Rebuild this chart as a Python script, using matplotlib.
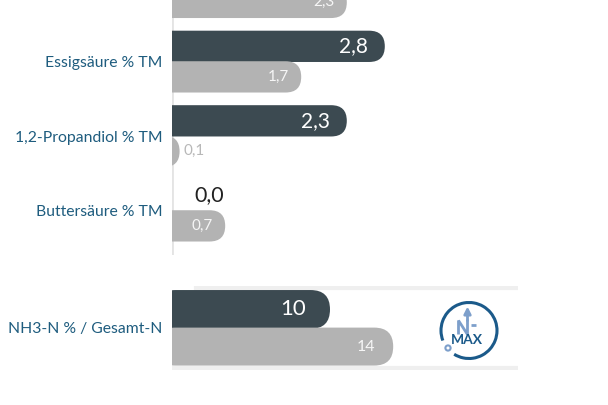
import numpy as np
import matplotlib
matplotlib.use('Agg')
import matplotlib.pyplot as plt
from matplotlib.patches import FancyBboxPatch, Circle, Arc

plt.rcParams['font.family'] = ['Lato', 'DejaVu Sans']

# data
categories = ['', 'Essigsäure % TM', '1,2-Propandiol % TM', 'Buttersäure % TM']
current = [np.nan, 2.8, 2.3, 0.0]
previous = [2.3, 1.7, 0.1, 0.7]

nh3_label = 'NH3-N % / Gesamt-N'
nh3_current = 10
nh3_previous = 14

DARK = '#3c4a51'
GREY = '#b3b3b3'
LABEL = '#1e5c7e'
LOGO = '#1b5a8a'
LOGO_LIGHT = '#7d9fcb'


def px_per_unit(ax):
    bb = ax.get_window_extent()
    x0, x1 = ax.get_xlim()
    y0, y1 = ax.get_ylim()
    return bb.width / abs(x1 - x0), bb.height / abs(y1 - y0)


def rounded_bar(ax, y, value, h, color):
    px_x, px_y = px_per_unit(ax)
    r = (h / 2) * px_y / px_x
    box = FancyBboxPatch((-1, y - h / 2), value + 1, h,
                         boxstyle=f'round,pad=0,rounding_size={r}',
                         mutation_aspect=px_x / px_y,
                         facecolor=color, edgecolor='none', zorder=3)
    ax.add_patch(box)


def value_text(ax, y, value, txt, inside_color, inside_size, inside_pad,
               outside_color, outside_size, outside_pad):
    px_x, _ = px_per_unit(ax)
    if value * px_x > 40:
        ax.annotate(txt, xy=(value, y), xytext=(-inside_pad, 0), textcoords='offset pixels',
                    ha='right', va='center', color=inside_color, fontsize=inside_size, zorder=5)
    else:
        ax.annotate(txt, xy=(value, y), xytext=(outside_pad, 0), textcoords='offset pixels',
                    ha='left', va='center', color=outside_color, fontsize=outside_size, zorder=5)


fig = plt.figure(figsize=(6.08, 4.05), dpi=100)
fig.patch.set_facecolor('white')

# upper panel
ax1 = fig.add_axes([172 / 608, 1 - 255 / 405, 346 / 608, 255 / 405])
for s in ax1.spines.values():
    s.set_visible(False)
ax1.set_xticks([])
ax1.set_yticks(range(len(categories)))
ax1.set_yticklabels(categories, color=LABEL, fontsize=11.3)
ax1.tick_params(axis='y', length=0, pad=7)
# limits after the ticks, set_yticks would widen them
ax1.set_xlim(0, 346 / 76)
ax1.set_ylim(3.591, 0.168)
ax1.axvline(0, color='#e4e4e4', lw=2, zorder=1)

h = 0.42
for i, cat in enumerate(categories):
    if not np.isnan(current[i]):
        rounded_bar(ax1, i - 0.21, current[i], h, DARK)
        value_text(ax1, i - 0.21, current[i], f'{current[i]:.1f}'.replace('.', ','),
                   'white', 15, 17, '#222222', 15.5, 22)
    rounded_bar(ax1, i + 0.2, previous[i], h, GREY)
    value_text(ax1, i + 0.2, previous[i], f'{previous[i]:.1f}'.replace('.', ','),
               '#f6f6f6', 11, 12, '#b8b8b8', 11, 4)

# lower panel
ax2 = fig.add_axes([172 / 608, 1 - 370 / 405, 346 / 608, 84 / 405])
for s in ax2.spines.values():
    s.set_visible(False)
ax2.set_xticks([])
ax2.set_yticks([0])
ax2.set_yticklabels([nh3_label], color=LABEL, fontsize=11.3)
ax2.tick_params(axis='y', length=0, pad=7)
ax2.set_xlim(0, 346 / 15.8)
ax2.set_ylim(0.52, -0.52)
ax2.axhline(-0.5, xmin=0.07, color='#efefef', lw=3, zorder=1)
ax2.axhline(0.49, color='#efefef', lw=3, zorder=1)

rounded_bar(ax2, -0.23, nh3_current, 0.48, DARK)
value_text(ax2, -0.23, nh3_current, f'{nh3_current}', 'white', 16, 24, '#222222', 15, 22)
rounded_bar(ax2, 0.23, nh3_previous, 0.47, GREY)
value_text(ax2, 0.23, nh3_previous, f'{nh3_previous}', '#f6f6f6', 11.5, 18, '#b8b8b8', 11, 4)

# N-MAX logo
lg = fig.add_axes([(469 - 32) / 608, 1 - (330.5 + 32) / 405, 64 / 608, 64 / 405])
lg.set_xlim(-32, 32)
lg.set_ylim(-32, 32)
lg.set_aspect('equal')
lg.axis('off')
lg.add_patch(Arc((0, 0), 56, 56, theta1=238, theta2=201, color=LOGO, lw=2.2))
lg.add_patch(Circle((-21, -17.5), 2.6, facecolor='white', edgecolor=LOGO_LIGHT, lw=1.5))
lg.plot([-10.5, -10.5, -1.5, -1.5], [-4, 10, -4, 11], color=LOGO_LIGHT, lw=2,
        solid_joinstyle='miter', solid_capstyle='butt')
lg.plot([2, 7], [6, 6], color=LOGO_LIGHT, lw=2, solid_capstyle='butt')
lg.annotate('', xy=(-1.5, 24), xytext=(-1.5, 10),
            arrowprops=dict(arrowstyle='-|>', color=LOGO_LIGHT, lw=2, mutation_scale=10,
                            shrinkA=0, shrinkB=0))
lg.text(-2, -10, 'MAX', color=LOGO, fontsize=10, fontweight='bold', ha='center', va='center')

fig.savefig('out.png', dpi=100)
